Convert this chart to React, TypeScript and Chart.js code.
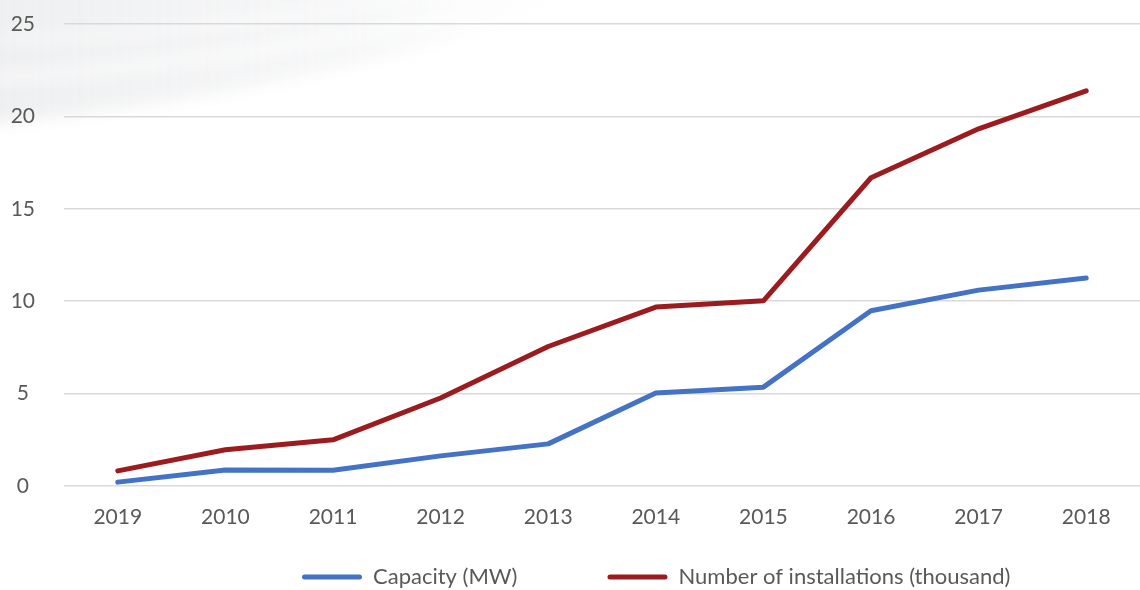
import React, { useEffect, useRef } from "react";
import { Chart, registerables } from "chart.js";

Chart.register(...registerables);

const categories = ["2019", "2010", "2011", "2012", "2013", "2014", "2015", "2016", "2017", "2018"];
const capacityMW = [0.21, 0.86, 0.85, 1.63, 2.28, 5.03, 5.35, 9.48, 10.6, 11.25];
const installationsThousand = [0.82, 1.96, 2.5, 4.76, 7.55, 9.68, 10.02, 16.68, 19.33, 21.38];
const seriesLabels = ["Capacity (MW)", "Number of installations (thousand)"];
const yMin = 0;
const yMax = 25;
const yStep = 5;

const FONT = "Lato, 'Open Sans', sans-serif";
const TEXT = "#595959";
const BLUE = "#4472C4";
const RED = "#9B1B1F";

const backgroundPlugin = {
  id: "bgSwoosh",
  beforeDraw(chart: any) {
    const ctx = chart.ctx as CanvasRenderingContext2D;
    ctx.save();
    ctx.fillStyle = "#ffffff";
    ctx.fillRect(0, 0, chart.width, chart.height);
    ctx.filter = "blur(8px)";
    const g = ctx.createLinearGradient(0, 0, 620, 0);
    g.addColorStop(0, "rgba(228,229,231,0.6)");
    g.addColorStop(0.6, "rgba(238,239,241,0.45)");
    g.addColorStop(1, "rgba(255,255,255,0)");
    ctx.fillStyle = g;
    ctx.beginPath();
    ctx.moveTo(-20, -20);
    ctx.lineTo(640, -20);
    ctx.quadraticCurveTo(320, 95, -20, 125);
    ctx.closePath();
    ctx.fill();
    ctx.strokeStyle = "rgba(255,255,255,0.9)";
    ctx.lineWidth = 7;
    ctx.beginPath();
    ctx.moveTo(-10, 78);
    ctx.quadraticCurveTo(260, 62, 560, -5);
    ctx.stroke();
    ctx.lineWidth = 5;
    ctx.beginPath();
    ctx.moveTo(-10, 40);
    ctx.quadraticCurveTo(200, 35, 420, -5);
    ctx.stroke();
    ctx.restore();
  },
};

const LEGEND_PAD = 90;
const LEGEND_FONT = 22;
const TICK_FONT = 21;

const legendPlacePlugin = {
  id: "legendPlace",
  afterLayout(chart: any) {
    const lg = chart.legend;
    if (!lg) return;
    lg.left = 302 - LEGEND_PAD;
    lg.right = 1140 + 200;
    lg.top = 577 - LEGEND_FONT / 2 - LEGEND_PAD;
    lg.bottom = 590;
    lg.width = lg.right - lg.left;
    lg.height = lg.bottom - lg.top;
  },
};

export default function App() {
  const canvasRef = useRef<HTMLCanvasElement | null>(null);

  useEffect(() => {
    const canvas = canvasRef.current;
    if (!canvas) return;
    const chart = new Chart(canvas, {
      type: "line",
      data: {
        labels: categories,
        datasets: [
          {
            label: seriesLabels[0],
            data: capacityMW,
            borderColor: BLUE,
            backgroundColor: BLUE,
            borderWidth: 5,
            borderCapStyle: "round",
            borderJoinStyle: "round",
            pointRadius: 0,
            pointHoverRadius: 0,
            tension: 0,
            fill: false,
          },
          {
            label: seriesLabels[1],
            data: installationsThousand,
            borderColor: RED,
            backgroundColor: RED,
            borderWidth: 5,
            borderCapStyle: "round",
            borderJoinStyle: "round",
            pointRadius: 0,
            pointHoverRadius: 0,
            tension: 0,
            fill: false,
          },
        ],
      },
      options: {
        responsive: false,
        animation: false,
        layout: { padding: { top: 24, left: 0, right: 0, bottom: 0 } },
        plugins: {
          tooltip: { enabled: false },
          legend: {
            display: true,
            position: "bottom",
            align: "start",
            maxHeight: 40,
            labels: {
              boxWidth: 60,
              boxHeight: 5,
              padding: LEGEND_PAD,
              color: TEXT,
              font: { family: FONT, size: LEGEND_FONT },
              generateLabels: (c: any) =>
                c.data.datasets.map((ds: any, i: number) => ({
                  text: ds.label,
                  fillStyle: ds.borderColor,
                  strokeStyle: ds.borderColor,
                  lineWidth: 0,
                  borderRadius: 2.5,
                  hidden: false,
                  datasetIndex: i,
                  fontColor: TEXT,
                })),
            },
          },
        },
        scales: {
          x: {
            type: "category",
            offset: true,
            grid: { display: false, drawTicks: false },
            border: { display: false },
            ticks: {
              color: TEXT,
              padding: 19,
              maxRotation: 0,
              autoSkip: false,
              font: { family: FONT, size: TICK_FONT },
            },
            afterFit: (scale: any) => {
              scale.height = 64;
            },
          },
          y: {
            min: yMin,
            max: yMax,
            grid: { color: "#D9D9D9", lineWidth: 1.6, drawTicks: false },
            border: { display: false },
            ticks: {
              stepSize: yStep,
              color: TEXT,
              padding: 29,
              crossAlign: "center",
              font: { family: FONT, size: TICK_FONT },
            },
            afterFit: (scale: any) => {
              scale.width = 64;
              scale.paddingTop = 0;
              scale.paddingBottom = 0;
            },
          },
        },
      },
      plugins: [backgroundPlugin, legendPlacePlugin],
    } as any);
    return () => chart.destroy();
  }, []);

  return (
    <div style={{ position: "fixed", left: 0, top: 0, width: 1140, height: 590, background: "#fff" }}>
      <canvas ref={canvasRef} width={1140} height={590} style={{ display: "block" }} />
    </div>
  );
}
